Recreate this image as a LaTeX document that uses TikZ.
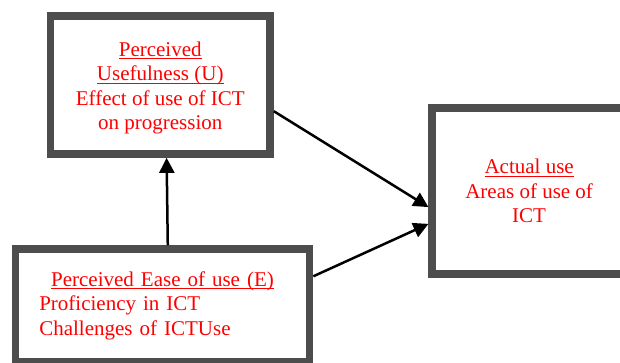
\documentclass[tikz,border=0pt]{standalone}
\usepackage{fontspec}
\setmainfont{Liberation Serif}
\usetikzlibrary{arrows.meta}
\definecolor{boxgray}{RGB}{77,77,77}
% underline as thick as the reference one
\newcommand\ulined[1]{\leavevmode\setbox0=\hbox{#1}\rlap{\rule[-3pt]{\wd0}{1.3pt}}\box0}

\begin{document}
\begin{tikzpicture}[x=1pt,y=-1pt,>={Triangle[length=15pt,width=15pt]},line width=2.5pt,
    construct/.style={draw=boxgray,line width=7.7pt,rectangle,text=red,
      font=\fontsize{21}{24.5}\selectfont}]

  \useasboundingbox (0,0) rectangle (620,362);
  \clip (0,0) rectangle (620,362);

  \node[construct,align=center,minimum width=219.5pt,minimum height=138pt]
    (U) at (160.25,85) {\rule{0pt}{21pt}\ulined{Perceived}\\ \ulined{Usefulness (U)}\\
      Effect of use of ICT\\ on progression};
  \node[construct,align=left,text width=246.4pt,minimum width=294pt,minimum height=113pt]
    (E) at (162.5,305.6) {\makebox[\linewidth][c]{\ulined{Perceived Ease of use (E)}}\\
      Proficiency in ICT\\ Challenges of ICTUse};
  \node[construct,align=center,minimum width=193.7pt,minimum height=165.7pt]
    (A) at (529.15,191.15) {\ulined{Actual use}\\ Areas of use of\\ ICT};

  \path[->] (U.-13) edge (A.189)
            (E.11)  edge (A.198)
            (E.85)  edge (U.-85);
\end{tikzpicture}
\end{document}
